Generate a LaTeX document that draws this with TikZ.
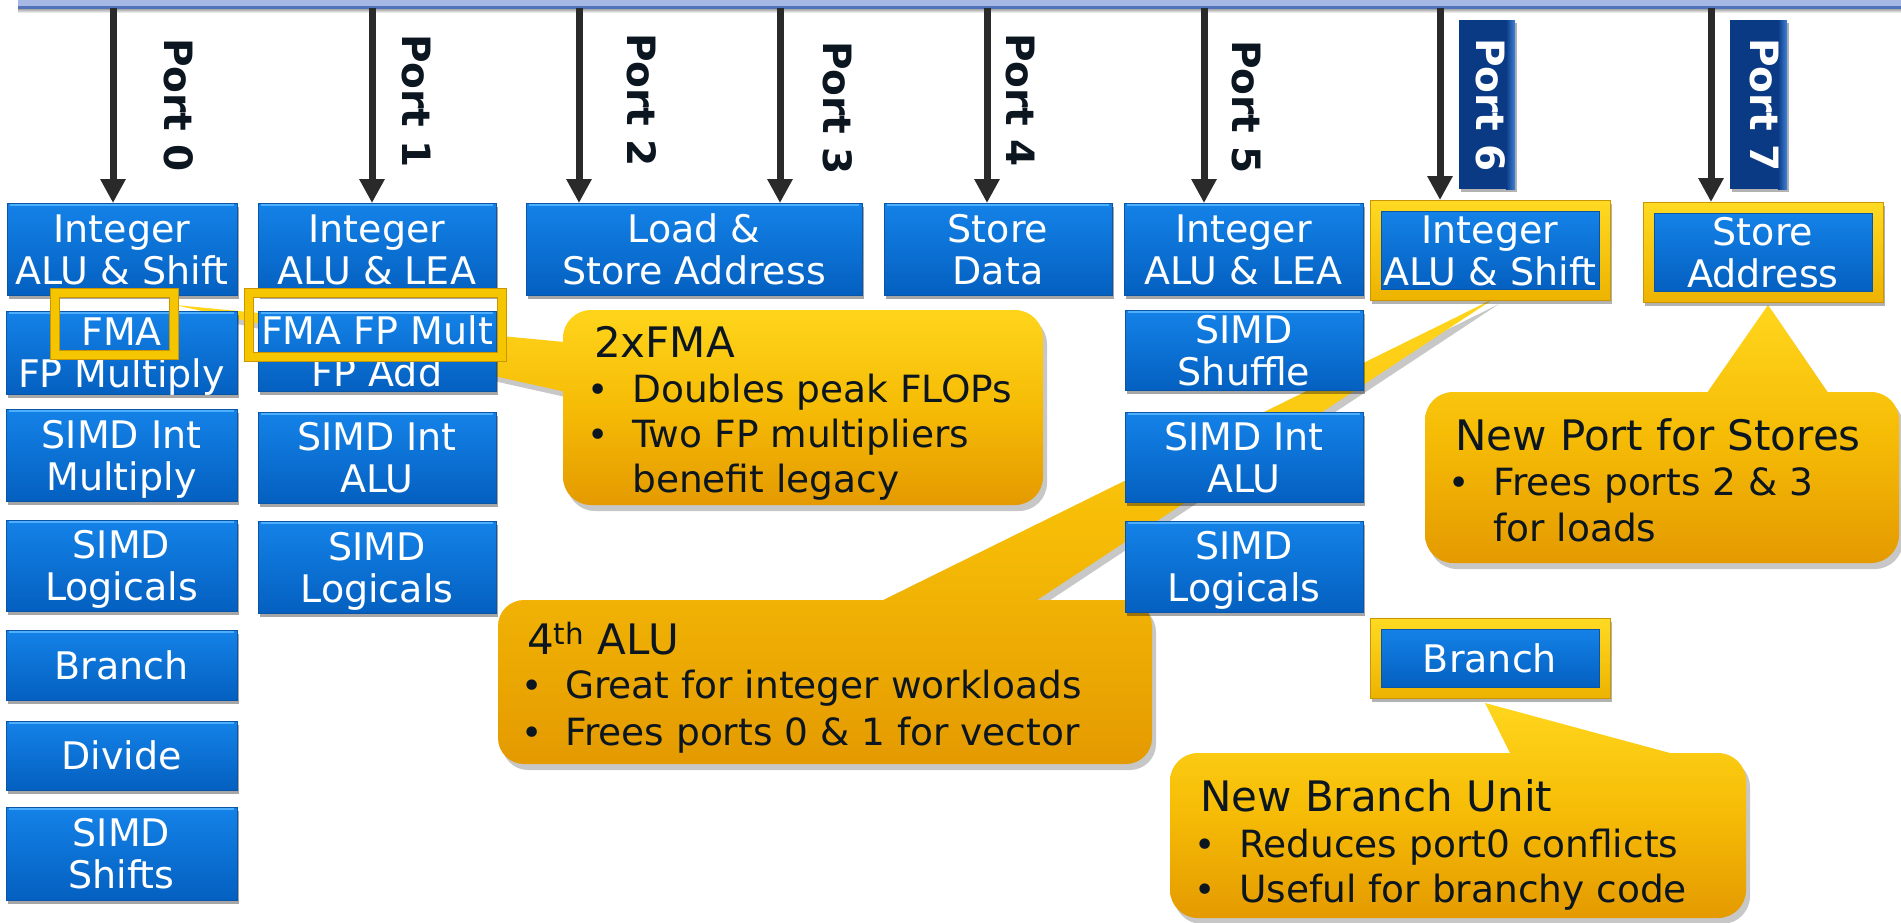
\documentclass[tikz,border=0pt]{standalone}
\usepackage{fontspec}
\setmainfont{DejaVu Sans}
\usetikzlibrary{arrows.meta,shadows,calc}

\definecolor{boxtop}{HTML}{1482E8}
\definecolor{boxbot}{HTML}{0460C0}
\definecolor{boxedge}{HTML}{0A55A6}
\definecolor{boxhi}{HTML}{4EAEFF}
\definecolor{navy}{HTML}{0B3A84}
\definecolor{navyhi}{HTML}{3E82DA}
\definecolor{ytop}{HTML}{FFD61C}
\definecolor{ymid}{HTML}{F6BC06}
\definecolor{ybot}{HTML}{E49A00}
\definecolor{yedge}{HTML}{C99600}
\definecolor{yframe}{HTML}{F5C500}
\definecolor{yftop}{HTML}{FFDA22}
\definecolor{yfbot}{HTML}{EDB300}
\definecolor{ink}{HTML}{0B1620}
\definecolor{arrowc}{HTML}{2A2A2A}
\definecolor{barlight}{HTML}{A6B8E4}
\definecolor{bardark}{HTML}{5073BC}

\tikzset{
  bluebody/.style={draw=boxedge, line width=0.8pt, top color=boxtop, bottom color=boxbot, inner sep=0pt, outer sep=0pt},
  bluebox/.style={bluebody, drop shadow={shadow xshift=2pt, shadow yshift=-4pt, opacity=.35, fill=black}},
  boxtext/.style={text=white, font=\fontsize{38}{42}\selectfont, align=center, inner sep=0pt},
  yframebox/.style={draw=yedge, line width=0.8pt, top color=yftop, bottom color=yfbot, inner sep=0pt, outer sep=0pt, drop shadow={shadow xshift=2pt, shadow yshift=-4pt, opacity=.3, fill=black}},
  hiframe/.style={draw=yedge, double=yframe, double distance=8pt, line width=1.2pt, inner sep=0pt, outer sep=0pt},
  parrow/.style={draw=arrowc, line width=7pt, -{Triangle[width=24pt,length=24pt]}},
  plabel/.style={rotate=-90, font=\bfseries\fontsize{39}{39}\selectfont, text=ink, inner sep=0pt},
  navybox/.style={fill=navy, inner sep=0pt, outer sep=0pt, drop shadow={shadow xshift=2pt, shadow yshift=-3pt, opacity=.3, fill=black}},
  callout/.style={top color=ytop, bottom color=ybot, middle color=ymid},
  cshadow/.style={fill=black, opacity=.22},
  ctitle/.style={font=\fontsize{42}{46}\selectfont, text=ink, anchor=base west, inner sep=0pt},
  cbody/.style={font=\fontsize{37.5}{42}\selectfont, text=ink, anchor=base west, inner sep=0pt},
  cbul/.style={font=\fontsize{36}{36}\selectfont, text=ink, anchor=base, inner sep=0pt}
}

\newcommand\mystr{\rule{0pt}{29pt}}
\newcommand\ubox[7]{%
  \node[bluebox, minimum width={#4-#2}, minimum height={#5-#3}] (#1) at ({(#2+#4)/2},{(#3+#5)/2}) {};
  \draw[boxhi, line width=2pt] ($(#1.north west)+(3,2)$) -- ($(#1.north east)+(-3,2)$);
  \node[boxtext, anchor=north] (#1t) at ({(#2+#4)/2},{(#3+#5)/2-#6}) {#7};
}
\newcommand\ybox[7]{%
  \node[yframebox, minimum width={#4-#2}, minimum height={#5-#3}] (#1) at ({(#2+#4)/2},{(#3+#5)/2}) {};
  \node[bluebody, minimum width={#4-#2-22}, minimum height={#5-#3-22}] (#1i) at ({(#2+#4)/2},{(#3+#5)/2}) {};
  \node[boxtext, anchor=north] (#1t) at ({(#2+#4)/2},{(#3+#5)/2-#6}) {#7};
}

\begin{document}
\begin{tikzpicture}[x=1pt,y=-1pt]
\fill[white] (0,0) rectangle (1901,922);
\path[use as bounding box] (0,0) rectangle (1901,922);

% top bar
\fill[barlight] (18,-2) rectangle (1901,6);
\fill[bardark] (18,5.5) rectangle (1901,9);
\shade[top color=black!35, bottom color=white] (18,9) rectangle (1901,13);

% callout shadows
\begin{scope}[shift={(4,6)}]
\fill[cshadow] (575,394) -- (175,305) -- (575,343) -- cycle
  [rounded corners=28] (563,310) -- (1043,310) -- (1043,505) -- (563,505) -- cycle;
\fill[cshadow] (863,610) -- (1495,298) -- (1022,610) -- cycle
  [rounded corners=26] (498,600) -- (1152,600) -- (1152,764) -- (498,764) -- cycle;
\fill[cshadow] (1702,400) -- (1768,305) -- (1833,400) -- cycle
  [rounded corners=28] (1425,392) -- (1899,392) -- (1899,563) -- (1425,563) -- cycle;
\fill[cshadow] (1515,763) -- (1485,703) -- (1707,763) -- cycle
  [rounded corners=28] (1170,753) -- (1746,753) -- (1746,918) -- (1170,918) -- cycle;
\end{scope}

% callouts
\shade[callout] (575,394) -- (175,305) -- (575,343) -- cycle
  [rounded corners=28] (563,310) -- (1043,310) -- (1043,505) -- (563,505) -- cycle;
\shade[callout] (863,610) -- (1495,298) -- (1022,610) -- cycle
  [rounded corners=26] (498,600) -- (1152,600) -- (1152,764) -- (498,764) -- cycle;
\shade[callout] (1702,400) -- (1768,305) -- (1833,400) -- cycle
  [rounded corners=28] (1425,392) -- (1899,392) -- (1899,563) -- (1425,563) -- cycle;
\shade[callout] (1515,763) -- (1485,703) -- (1707,763) -- cycle
  [rounded corners=28] (1170,753) -- (1746,753) -- (1746,918) -- (1170,918) -- cycle;

% port 0 column
\ubox{b00}{7}{203}{237}{295}{36}{\mystr Integer\\\mystr ALU \& Shift}
\ubox{b01}{6}{311}{237}{394}{36}{\mystr FMA\\\mystr FP Multiply}
\ubox{b02}{6}{409}{237}{501}{36}{\mystr SIMD Int\\\mystr Multiply}
\ubox{b03}{6}{520}{237}{611}{36}{\mystr SIMD\\\mystr Logicals}
\ubox{b04}{6}{630}{237}{700}{15}{\mystr Branch}
\ubox{b05}{6}{721}{237}{790}{15}{\mystr Divide}
\ubox{b06}{6}{807}{237}{900}{36}{\mystr SIMD\\\mystr Shifts}
% port 1 column
\ubox{b10}{258}{203}{496}{295}{36}{\mystr Integer\\\mystr ALU \& LEA}
\ubox{b11}{258}{311}{496}{391}{36}{\mystr FMA FP Mult\\\mystr FP Add}
\ubox{b12}{258}{412}{496}{503}{36}{\mystr SIMD Int\\\mystr ALU}
\ubox{b13}{258}{521}{496}{613}{36}{\mystr SIMD\\\mystr Logicals}
% ports 2-4
\ubox{b2}{526}{203}{862}{295}{36}{\mystr Load \&\\\mystr Store Address}
\ubox{b4}{884}{203}{1112}{295}{36}{\mystr Store\\\mystr Data}
% port 5 column
\ubox{b50}{1124}{203}{1363}{295}{36}{\mystr Integer\\\mystr ALU \& LEA}
\ubox{b51}{1125}{310}{1363}{390}{36}{\mystr SIMD\\\mystr Shuffle}
\ubox{b52}{1125}{412}{1363}{502}{36}{\mystr SIMD Int\\\mystr ALU}
\ubox{b53}{1125}{521}{1363}{612}{36}{\mystr SIMD\\\mystr Logicals}
% new units
\ybox{f60}{1370}{200}{1610}{300}{36}{\mystr Integer\\\mystr ALU \& Shift}
\ybox{f7}{1643}{202}{1883}{302}{36}{\mystr Store\\\mystr Address}
\ybox{f6b}{1370}{618}{1610}{698}{15}{\mystr Branch}

% FMA highlight frames
\node[hiframe, minimum width=119, minimum height=62] (hfma) at (114.5,324) {};
\node[hiframe, minimum width=253, minimum height=64] (hfmb) at (375.5,325) {};

% port arrows
\coordinate (s0) at (113,8);
\coordinate (s1) at (372,8);
\coordinate (s2) at (579,8);
\coordinate (s3) at (780,8);
\coordinate (s4) at (987,8);
\coordinate (s5) at (1204,8);
\coordinate (s6) at (1440,8);
\coordinate (s7) at (1711,8);
\draw[parrow] (s0) -- (s0 |- b00.north);
\draw[parrow] (s1) -- (s1 |- b10.north);
\draw[parrow] (s2) -- (s2 |- b2.north);
\draw[parrow] (s3) -- (s3 |- b2.north);
\draw[parrow] (s4) -- (s4 |- b4.north);
\draw[parrow] (s5) -- (s5 |- b50.north);
\draw[parrow] (s6) -- (s6 |- f60.north);
\draw[parrow] (s7) -- (s7 |- f7.north);

% port labels
\node[plabel] (l0) at (179,105) {Port 0};
\node[plabel] (l1) at (416,101) {Port 1};
\node[plabel] (l2) at (642,100) {Port 2};
\node[plabel] (l3) at (838,108) {Port 3};
\node[plabel] (l4) at (1020,100) {Port 4};
\node[plabel] (l5) at (1246,107) {Port 5};
\node[navybox, minimum width=56, minimum height=169] (n6) at (1487,104.5) {};
\node[navybox, minimum width=57, minimum height=169] (n7) at (1758.5,104.5) {};
\shade[left color=navy, right color=navyhi] ($(n6.north east)+(-9,0)$) rectangle (n6.south east);
\shade[left color=navy, right color=navyhi] ($(n7.north east)+(-9,0)$) rectangle (n7.south east);
\node[plabel, text=white] (l6) at (1491,105) {Port 6};
\node[plabel, text=white] (l7) at (1764,105) {Port 7};

% callout texts
\node[ctitle] (t1) at (594,357) {2xFMA};
\node[cbul] (t1a) at (598,402) {•};
\node[cbody] (t1b) at (632,402) {Doubles peak FLOPs};
\node[cbul] (t1c) at (598,447) {•};
\node[cbody] (t1d) at (632,447) {Two FP multipliers};
\node[cbody] (t1e) at (632,492) {benefit legacy};

\node[ctitle] (t2) at (527,654) {4\textsuperscript{th} ALU};
\node[cbul] (t2a) at (532,698) {•};
\node[cbody] (t2b) at (565,698) {Great for integer workloads};
\node[cbul] (t2c) at (532,745) {•};
\node[cbody] (t2d) at (565,745) {Frees ports 0 \& 1 for vector};

\node[ctitle] (t3) at (1455,450) {New Port for Stores};
\node[cbul] (t3a) at (1459,495) {•};
\node[cbody] (t3b) at (1493,495) {Frees ports 2 \& 3};
\node[cbody] (t3c) at (1493,541) {for loads};

\node[ctitle] (t4) at (1200,811) {New Branch Unit};
\node[cbul] (t4a) at (1205,857) {•};
\node[cbody] (t4b) at (1239,857) {Reduces port0 conflicts};
\node[cbul] (t4c) at (1205,902) {•};
\node[cbody] (t4d) at (1239,902) {Useful for branchy code};
\end{tikzpicture}
\end{document}
